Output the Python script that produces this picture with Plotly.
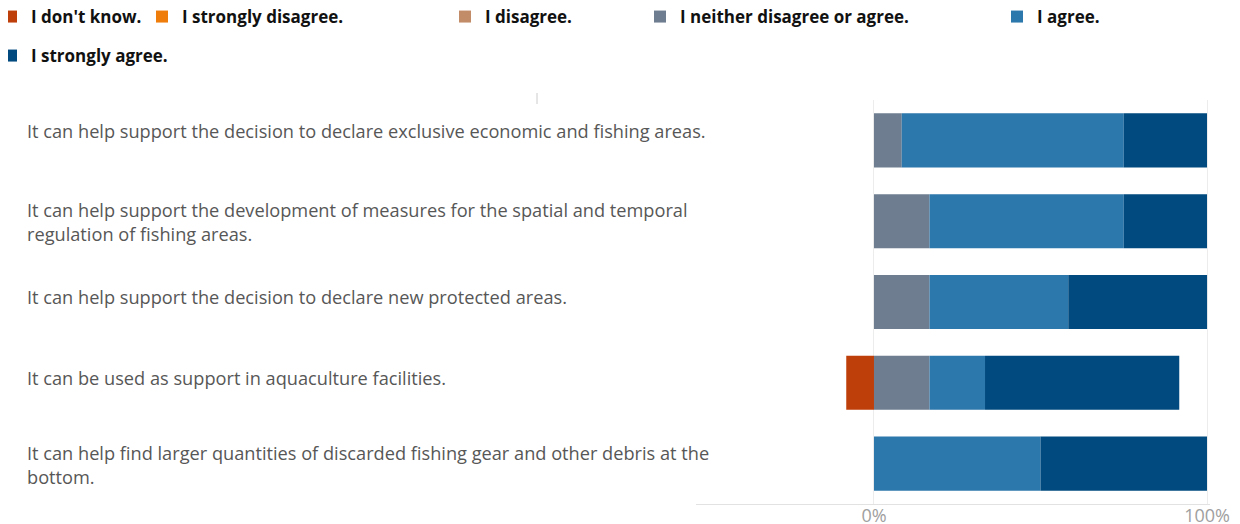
import plotly.graph_objects as go

categories = [
    "It can help support the decision to declare exclusive economic and fishing areas.",
    "It can help support the development of measures for the spatial and temporal<br>regulation of fishing areas.",
    "It can help support the decision to declare new protected areas.",
    "It can be used as support in aquaculture facilities.",
    "It can help find larger quantities of discarded fishing gear and other debris at the<br>bottom.",
]
series_names = ["I don't know.", "I strongly disagree.", "I disagree.",
                "I neither disagree or agree.", "I agree.", "I strongly agree."]
dont_know = [0, 0, 0, 8.33, 0]
strongly_disagree = [0, 0, 0, 0, 0]
disagree = [0, 0, 0, 0, 0]
neither = [8.33, 16.67, 16.67, 16.67, 0]
agree = [66.67, 58.33, 41.67, 16.67, 50.0]
strongly_agree = [25.0, 25.0, 41.67, 58.33, 50.0]
tick_vals = [0, 100]
tick_text = ["0%", "100%"]

colors = ["#BF3F0B", "#EF7D0C", "#C38C68", "#6E7E90", "#2C77AC", "#014A7F"]
values = [[-v for v in dont_know], strongly_disagree, disagree, neither, agree, strongly_agree]

# page body has an 8px margin, so the figure is drawn 8px in from the corner
W, H = 1232, 516
L, R, T, B = 688, 30, 92, 20
pw = W - L - R
ph = H - T - B

# legend box top-left positions in figure pixels
legend_px = [(-17, -9), (134, -9), (437, -9), (632, -9), (989, -9), (-17, 30)]
label_yshift = [9, -1, 5, 5, -1]

fig = go.Figure()
for i, (name, vals, col) in enumerate(zip(series_names, values, colors)):
    lg = "legend" if i == 0 else f"legend{i+1}"
    fig.add_trace(go.Bar(
        y=categories, x=vals, name=name, orientation="h",
        marker=dict(color=col, line=dict(width=0)),
        legend=lg, showlegend=True,
        hovertemplate="%{y}<br>" + name + " %{x:.1f}%<extra></extra>",
    ))

layout_legends = {}
for i, (px, py) in enumerate(legend_px):
    key = "legend" if i == 0 else f"legend{i+1}"
    layout_legends[key] = dict(
        x=(px - L) / pw, y=1 + (T - py) / ph, xref="paper", yref="paper",
        xanchor="left", yanchor="top", orientation="h",
        font=dict(family="Open Sans", size=17, color="#111111", weight="bold"),
        bgcolor="rgba(0,0,0,0)", itemclick=False, itemdoubleclick=False,
    )

annotations = []
for idx, c in enumerate(categories):
    annotations.append(dict(
        x=(17 - L) / pw, xref="paper", y=idx, yref="y", yshift=label_yshift[idx],
        text=c, showarrow=False, xanchor="left", align="left",
        font=dict(family="Open Sans", size=18.2, color="#575757"),
    ))

fig.update_layout(
    width=W, height=H,
    margin=dict(l=L, r=R, t=T, b=B, autoexpand=False),
    barmode="relative",
    bargap=0.33,
    plot_bgcolor="white", paper_bgcolor="white",
    annotations=annotations,
    xaxis=dict(
        range=[-53.45, 100.9], tickvals=tick_vals, ticktext=tick_text,
        showgrid=True, gridcolor="#ECECEC", gridwidth=1, zeroline=False,
        showline=True, linecolor="#E2E2E2", linewidth=1,
        tickfont=dict(family="Open Sans", size=18, color="#A0A0A0"),
        ticks="", ticklabelstandoff=-5, automargin=False, fixedrange=True,
    ),
    yaxis=dict(
        type="category",
        categoryorder="array", categoryarray=categories, autorange="reversed",
        showticklabels=False, showgrid=False, zeroline=False, showline=False,
        automargin=False, fixedrange=True,
    ),
    shapes=[dict(type="line", xref="paper", yref="paper",
                 x0=(529 - L) / pw, x1=(529 - L) / pw,
                 y0=1 + (T - 85) / ph, y1=1 - 4 / ph,
                 line=dict(color="#CCCCCC", width=1))],
    **layout_legends,
)

fig.write_html("out.html")
